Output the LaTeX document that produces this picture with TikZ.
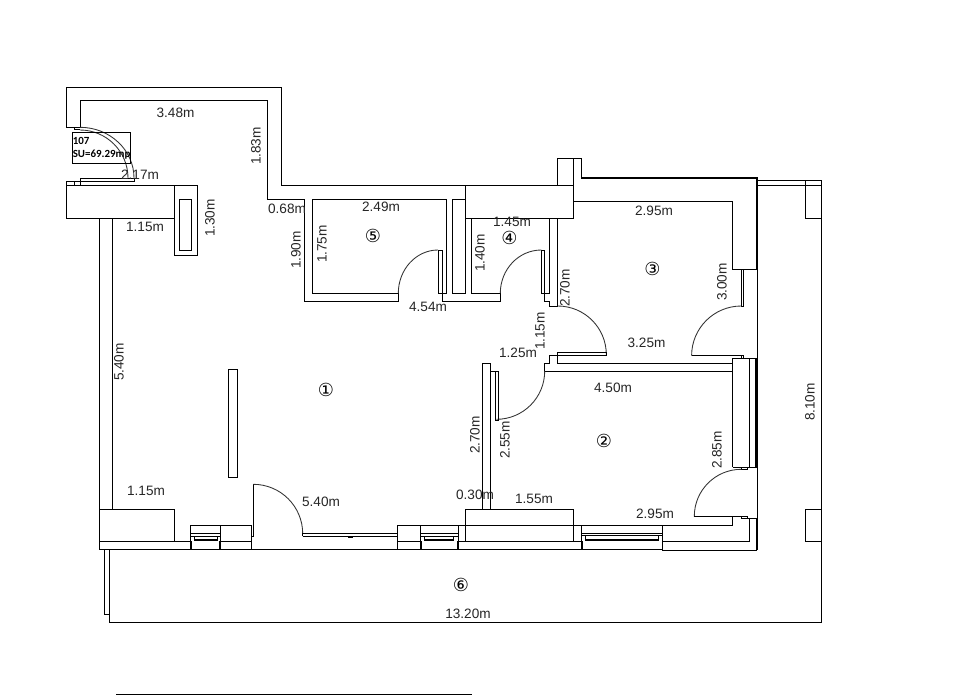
\documentclass[tikz,border=0pt]{standalone}
\usepackage{fontspec}
\setmainfont{Liberation Sans}
\newfontfamily\circfont{DejaVu Sans}
\newfontfamily\tagfont{Carlito}
\begin{document}
\begin{tikzpicture}[x=0.75pt,y=-0.75pt,
  wall/.style={draw=black,line width=0.75pt,line join=miter},
  thick wall/.style={draw=black,line width=1.6pt},
  arcline/.style={draw=black!80,line width=0.65pt},
  dim/.style={font=\fontsize{10.2}{12}\selectfont,text=black!85,inner sep=0pt},
  vdim/.style={dim,rotate=90},
  room/.style={font=\circfont\fontsize{13.5}{14}\selectfont,inner sep=0pt},
  tag/.style={font=\tagfont\bfseries\fontsize{8.2}{9}\selectfont,inner sep=0pt,anchor=west}]
\useasboundingbox (0,0) rectangle (962,697);
\fill[white] (0,0) rectangle (962,697);

% outer wall, top
\draw[wall] (80.3,127.3)--(66.3,127.3)--(66.3,87.3)--(281.3,87.3)--(281.3,185.3)--(557.7,185.3);
\draw[wall] (80.3,127.3)--(80.3,100.3)--(267.7,100.3)--(267.7,199.3)--(304.7,199.3)--(304.7,301.3)--(398.3,301.3)--(398.3,293.3)--(312.3,293.3)--(312.3,199.7)--(446.7,199.7)--(446.7,293.3)--(438,293.3)--(438,250)--(442,250);
\draw[wall] (442,250)--(442,301.3)--(500.3,301.3)--(500.3,293.3)--(471.7,293.3)--(471.7,218.3);
\draw[wall] (465.7,185.3)--(465.7,293.3)--(452.3,293.3)--(452.3,199.7)--(465.7,199.7);
\draw[wall] (465.7,185.3) rectangle (573.7,218.3);
\draw[wall] (557.7,185.3)--(557.7,158.3)--(581.7,158.3)--(581.7,178);
\draw[wall] (573.7,158.3)--(573.7,185.3);
\draw[thick wall] (581,178)--(757,178)--(757,269.3);
\draw[wall] (757,269.3)--(732.7,269.3)--(732.7,201.3)--(573.7,201.3);
\draw[wall] (757.5,269.3)--(757.5,358);

% door 4 jamb and closet
\draw[wall] (549.3,218.3)--(549.3,293.3)--(541.3,293.3)--(541.3,250)--(544.3,250)--(544.3,301.3)--(549.3,301.3)--(549.3,306)--(557.7,306)--(557.7,218.3);
\draw[arcline] (500.3,293.3) arc[start angle=180,end angle=270,x radius=41,y radius=43.3];
\draw[arcline] (398.3,293.3) arc[start angle=180,end angle=270,x radius=39.7,y radius=43.3];

% door between 1 and 3
\draw[arcline] (557.7,306) arc[start angle=270,end angle=360,radius=48.6];
\draw[wall] (606.3,352.3)--(557.3,352.3)--(557.3,363.3);
\draw[wall] (606.3,352.3)--(606.3,355.7)--(549.3,355.7)--(549.3,363.3)--(544.7,363.3)--(544.7,371)--(732.7,371);
\draw[wall] (557.3,363.3)--(732.7,363.3);

% door between 1 and 2
\draw[arcline] (544.7,371) arc[start angle=0,end angle=90,radius=48.3];
\draw[wall] (490.7,371)--(498.7,371)--(498.7,420.3)--(495.3,420.3)--(495.3,371);
\draw[wall] (490.7,509.3)--(490.7,363.3)--(482.7,363.3)--(482.7,509.3);

% door to room 3, right
\draw[wall] (741.3,269.3)--(741.3,306)--(743.7,306)--(743.7,269.3);
\draw[arcline] (741.3,306) arc[start angle=270,end angle=180,radius=49.7];
\draw[wall] (691.7,355.7)--(743.7,355.7)--(743.7,358.3);
\draw[wall] (741.3,355.7)--(741.3,358.3);
\draw[wall] (732.7,371)--(732.7,358.3)--(757,358.3);
\draw[wall] (732.7,467.3)--(732.7,371);
\draw[wall] (749.5,358.3)--(749.5,467.3);
\draw[thick wall] (756.5,357.5)--(756.5,467.3);
\draw[wall] (732.7,467.3)--(757,467.3);
\draw[wall] (741.3,467.3)--(741.3,469.3)--(747.7,469.3)--(747.7,467.3);
\draw[arcline] (741.3,469.3) arc[start angle=270,end angle=180,radius=47];
\draw[wall] (757.5,467.3)--(757.5,518.3);
\draw[wall] (693.7,516.3)--(747.7,516.3)--(747.7,518.3)--(757,518.3);
\draw[wall] (741.3,516.3)--(741.3,518.3)--(747.7,518.3);
\draw[wall] (732.3,516.3)--(732.3,525.3)--(662.3,525.3);
\draw[wall] (749.3,518.3)--(749.3,541.3)--(662.3,541.3);
\draw[thick wall] (757,518)--(757,550);
\draw[wall] (662.3,550)--(757,550);

% left wing
\draw[wall] (66.3,181)--(66.3,218.3)--(174.3,218.3);
\draw[wall] (66.3,185.3)--(197.3,185.3)--(197.3,255.3)--(174.3,255.3)--(174.3,185.3);
\draw[wall] (179.3,199.3) rectangle (191.7,250.7);
\draw[wall] (99.7,218.3)--(99.7,509.3);
\draw[wall] (112.3,218.3)--(112.3,509.3);
\draw[wall] (66.3,181)--(134.3,181)--(134.3,178.3)--(80.3,178.3)--(80.3,181);
\draw[wall] (74.3,181)--(74.3,185.3);
\draw[wall] (80.3,181)--(80.3,185.3);
\draw[wall] (74.3,127.3)--(74.3,129.5)--(80.3,129.5);
\draw[arcline] (80,127.3) arc[start angle=270,end angle=360,x radius=54,y radius=50.7];
\draw[arcline] (80,130) arc[start angle=270,end angle=360,x radius=48,y radius=48];
\draw[wall] (72.7,132.3) rectangle (130.3,163.7);

% central pillar
\draw[wall] (228,369) rectangle (237,477);

% bottom wall
\draw[wall] (99.3,509.3) rectangle (174.3,541.3);
\draw[wall] (99.3,541.3)--(99.3,549.3)--(662.3,549.3);
\draw[wall] (174.3,541.3)--(190.3,541.3);
\draw[wall] (190.3,541.3)--(190.3,525.3)--(251.7,525.3)--(251.7,549.3);
\draw[wall] (220.3,525.3)--(220.3,541.3);
\draw[wall] (190.3,533.3)--(220.3,533.3);
\draw[wall] (190.3,536.3)--(220.3,536.3);
\draw[wall] (194.3,536.3)--(194.3,540)--(217,540)--(217,536.3);
\draw[line width=1.2pt] (194.3,540)--(217,540);
\draw[line width=1.3pt] (191,541)--(191,549.5);
\draw[line width=1.3pt] (220.3,541)--(220.3,549.5);
\draw[wall] (220.3,541.3)--(251.7,541.3);
\draw[wall] (253.3,484.3)--(253.3,536.7)--(251.7,536.7);
\draw[arcline] (253.3,484.3) arc[start angle=270,end angle=360,radius=49.4];
\draw[wall] (302.7,536.3)--(302.7,533.5)--(396.7,533.5);
\draw[wall] (302.7,536.3)--(397,536.3);
\draw[line width=1pt] (348,537)--(353,537);

\draw[wall] (397.3,549.3)--(397.3,525.3)--(662.3,525.3)--(662.3,550);
\draw[wall] (420.7,525.3)--(420.7,541.3);
\draw[wall] (397.3,541.3)--(420.7,541.3);
\draw[wall] (420.7,533.3)--(458.3,533.3);
\draw[wall] (420.7,536.3)--(458.3,536.3);
\draw[wall] (424.3,536.3)--(424.3,540)--(453.7,540)--(453.7,536.3);
\draw[line width=1.2pt] (424.3,540)--(453.7,540);
\draw[line width=1.3pt] (420.7,541)--(420.7,549.5);
\draw[line width=1.3pt] (457.7,541)--(457.7,549.5);
\draw[wall] (458.3,525.3)--(458.3,541.3)--(581.7,541.3);
\draw[wall] (465.3,509.3) rectangle (573.3,541.3);
\draw[wall] (581.7,525.3)--(581.7,541.3);
\draw[wall] (581.7,533.3)--(662.3,533.3);
\draw[wall] (581.7,535.7)--(662.3,535.7);
\draw[wall] (585.3,535.7)--(585.3,539.7)--(658.7,539.7)--(658.7,535.7);
\draw[line width=1.2pt] (585.3,539.7)--(658.7,539.7);
\draw[line width=1.3pt] (582,541)--(582,549.5);

% terrace
\draw[wall] (109.3,549.3)--(109.3,622.3)--(821.7,622.3)--(821.7,180.3)--(757,180.3);
\draw[wall] (757,185.3)--(821.7,185.3);
\draw[wall] (805.3,180.3)--(805.3,218.3)--(821.7,218.3);
\draw[wall] (821.7,509.3)--(805.3,509.3)--(805.3,541.3)--(821.7,541.3);
\draw[wall] (104.3,549.3)--(104.3,614.7)--(109.3,614.7);

% base line
\draw[wall] (116,694)--(472,694);

% labels
\node[dim] (d1) at (175.5,113) {3.48m};
\node[vdim] (d2) at (256,146) {1.83m};
\node[dim] (d3) at (140,175) {2.17m};
\node[dim] (d4) at (145,227) {1.15m};
\node[vdim] (d5) at (210,218) {1.30m};
\node[dim] (d6) at (287,209) {0.68m};
\node[vdim] (d7) at (296,250) {1.90m};
\node[vdim] (d8) at (322,244) {1.75m};
\node[dim] (d9) at (381,207) {2.49m};
\node[dim] (d10) at (512,222) {1.45m};
\node[vdim] (d11) at (480,253) {1.40m};
\node[dim] (d12) at (428,307) {4.54m};
\node[vdim] (d13) at (565,288) {2.70m};
\node[vdim] (d14) at (540,331) {1.15m};
\node[dim] (d15) at (518,353) {1.25m};
\node[dim] (d16) at (654,211) {2.95m};
\node[vdim] (d17) at (722,282) {3.00m};
\node[dim] (d18) at (646.5,343) {3.25m};
\node[dim] (d19) at (613,388) {4.50m};
\node[vdim] (d20) at (119,362) {5.40m};
\node[vdim] (d21) at (475,435) {2.70m};
\node[vdim] (d22) at (505,440) {2.55m};
\node[vdim] (d23) at (717,450) {2.85m};
\node[vdim] (d24) at (810,402) {8.10m};
\node[dim] (d25) at (146,491) {1.15m};
\node[dim] (d26) at (321,502) {5.40m};
\node[dim] (d27) at (475,495) {0.30m};
\node[dim] (d28) at (534,499) {1.55m};
\node[dim] (d29) at (655,514) {2.95m};
\node[dim] (d30) at (468,614) {13.20m};

\node[room] (r1) at (326,390) {①};
\node[room] (r2) at (604,441) {②};
\node[room] (r3) at (652.5,269) {③};
\node[room] (r4) at (509.5,238) {④};
\node[room] (r5) at (373,236) {⑤};
\node[room] (r6) at (461,585) {⑥};

\node[tag] (t1) at (72.5,140.5) {107};
\node[tag] (t2) at (72.5,154.5) {SU=69.29mp};
\end{tikzpicture}
\end{document}
